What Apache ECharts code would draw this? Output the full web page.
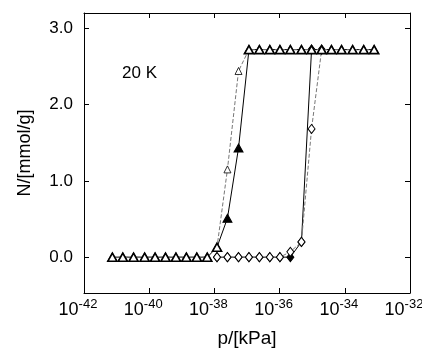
<!DOCTYPE html>
<html>
<head>
<meta charset="utf-8">
<script src="https://cdn.jsdelivr.net/npm/echarts@6/dist/echarts.min.js"></script>
<style>
  html, body { margin: 0; padding: 0; background: #fff; }
  #chart { width: 422px; height: 348px; }
</style>
</head>
<body>
<div id="chart"></div>
<script>
var logP = [-41.13, -40.81, -40.48, -40.14, -39.82, -39.50, -39.18, -38.86, -38.54, -38.22,
            -37.92, -37.60, -37.26, -36.94, -36.62, -36.30, -35.99, -35.67, -35.33, -35.02,
            -34.71, -34.41, -34.10, -33.76, -33.42, -33.10];

// N in mmol/g, null where a branch has no point
var openTri   = [0, 0, 0, 0, 0, 0, 0, 0, 0, 0, 0.13, 1.15, 2.44, 2.72, 2.72, 2.72, 2.72, 2.72, 2.72, 2.72, 2.72, 2.72, 2.72, 2.72, 2.72, 2.72];
var filledTri = [0, 0, 0, 0, 0, 0, 0, 0, 0, 0, 0.13, 0.51, 1.43, 2.72, 2.72, 2.72, 2.72, 2.72, 2.72, 2.72, 2.72, 2.72, 2.72, 2.72, 2.72, 2.72];
var openDia   = [null, null, null, null, null, null, null, null, null, null, 0, 0, 0, 0, 0, 0, 0, 0.07, 0.2, 1.68, 2.72, null, null, null, null, null];
var filledDia = [null, null, null, null, null, null, null, null, null, null, 0, 0, 0, 0, 0, 0, 0, 0, 0.2, 2.72, null, null, null, null, null, null];

var yTicks = [0, 1, 2, 3];

// the x axis is drawn in decades (log10 p), labelled as powers of ten
function pairs(ys, thin) {
  var out = [];
  for (var i = 0; i < logP.length; i++) {
    if (ys[i] === null) continue;
    var item = { value: [logP[i], ys[i]] };
    // lone points on the steep part are drawn lighter in the original
    if (thin && ys[i] > 0.5 && ys[i] < 2.6) {
      item.symbolSize = [7, 7];
      item.itemStyle = { borderWidth: 0.8 };
    }
    out.push(item);
  }
  return out;
}

var font = 'Liberation Sans, Arial, sans-serif';
var chart = echarts.init(document.getElementById('chart'));

var xBase = {
  type: 'value', min: -42, max: -32, interval: 2,
  axisLine: { show: true, onZero: false, lineStyle: { color: '#000', width: 1 } },
  axisTick: { show: true, inside: true, length: 5, lineStyle: { color: '#000' } },
  splitLine: { show: false }
};
var yBase = {
  type: 'value', min: -0.47, max: 3.2,
  axisLine: { show: true, onZero: false, lineStyle: { color: '#000', width: 1 } },
  axisTick: { show: true, inside: true, length: 5, customValues: yTicks, lineStyle: { color: '#000' } },
  splitLine: { show: false }
};

var option = {
  animation: false,
  backgroundColor: '#fff',
  grid: { left: 84, right: 12, top: 13, bottom: 55, containLabel: false, outerBoundsMode: 'none' },
  xAxis: [
    Object.assign({}, xBase, {
      position: 'bottom',
      name: 'p/[kPa]', nameLocation: 'middle', nameGap: 36,
      nameTextStyle: { fontFamily: font, fontSize: 19, color: '#000' },
      axisLabel: {
        margin: 5, padding: [0, 12, 0, 0],
        formatter: function (v) {
          return '{b|10}{s|' + Math.round(v) + '}';
        },
        rich: {
          b: { fontFamily: font, fontSize: 18, color: '#000', verticalAlign: 'bottom' },
          s: { fontFamily: font, fontSize: 13, color: '#000', verticalAlign: 'top', padding: [0, 0, 8, 0] }
        }
      }
    }),
    Object.assign({}, xBase, { position: 'top', axisLabel: { show: false } })
  ],
  yAxis: [
    Object.assign({}, yBase, {
      position: 'left',
      name: 'N/[mmol/g]', nameLocation: 'middle', nameGap: 50, nameRotate: 90,
      nameTextStyle: { fontFamily: font, fontSize: 18, color: '#000' },
      axisLabel: {
        customValues: yTicks, margin: 11,
        fontFamily: font, fontSize: 17, color: '#000',
        formatter: function (v) { return v.toFixed(1); }
      }
    }),
    Object.assign({}, yBase, { position: 'right', axisLabel: { show: false } })
  ],
  graphic: [{
    type: 'text', left: 122, top: 65,
    style: { text: '20 K', font: '17px ' + font, fill: '#000' }
  }],
  series: [
    {
      name: 'filled diamonds', type: 'line', data: pairs(filledDia, false),
      symbol: 'diamond', symbolSize: [7, 9], showAllSymbol: true,
      lineStyle: { color: '#000', width: 1 },
      itemStyle: { color: '#000', borderColor: '#000', borderWidth: 1 },
      z: 2
    },
    {
      name: 'open diamonds', type: 'line', data: pairs(openDia, false),
      symbol: 'diamond', symbolSize: [7, 9], showAllSymbol: true,
      lineStyle: { color: '#777', width: 1, type: [4, 2] },
      itemStyle: { color: '#fff', borderColor: '#000', borderWidth: 1 },
      z: 3
    },
    {
      name: 'filled triangles', type: 'line', data: pairs(filledTri, false),
      symbol: 'triangle', symbolSize: [9, 8], showAllSymbol: true,
      lineStyle: { color: '#000', width: 1 },
      itemStyle: { color: '#000', borderColor: '#000', borderWidth: 1 },
      z: 4
    },
    {
      name: 'open triangles', type: 'line', data: pairs(openTri, true),
      symbol: 'triangle', symbolSize: [9, 8], showAllSymbol: true,
      lineStyle: { color: '#777', width: 1, type: [4, 2] },
      itemStyle: { color: '#fff', borderColor: '#000', borderWidth: 1.6 },
      z: 5
    }
  ]
};
chart.setOption(option);
</script>
</body>
</html>
